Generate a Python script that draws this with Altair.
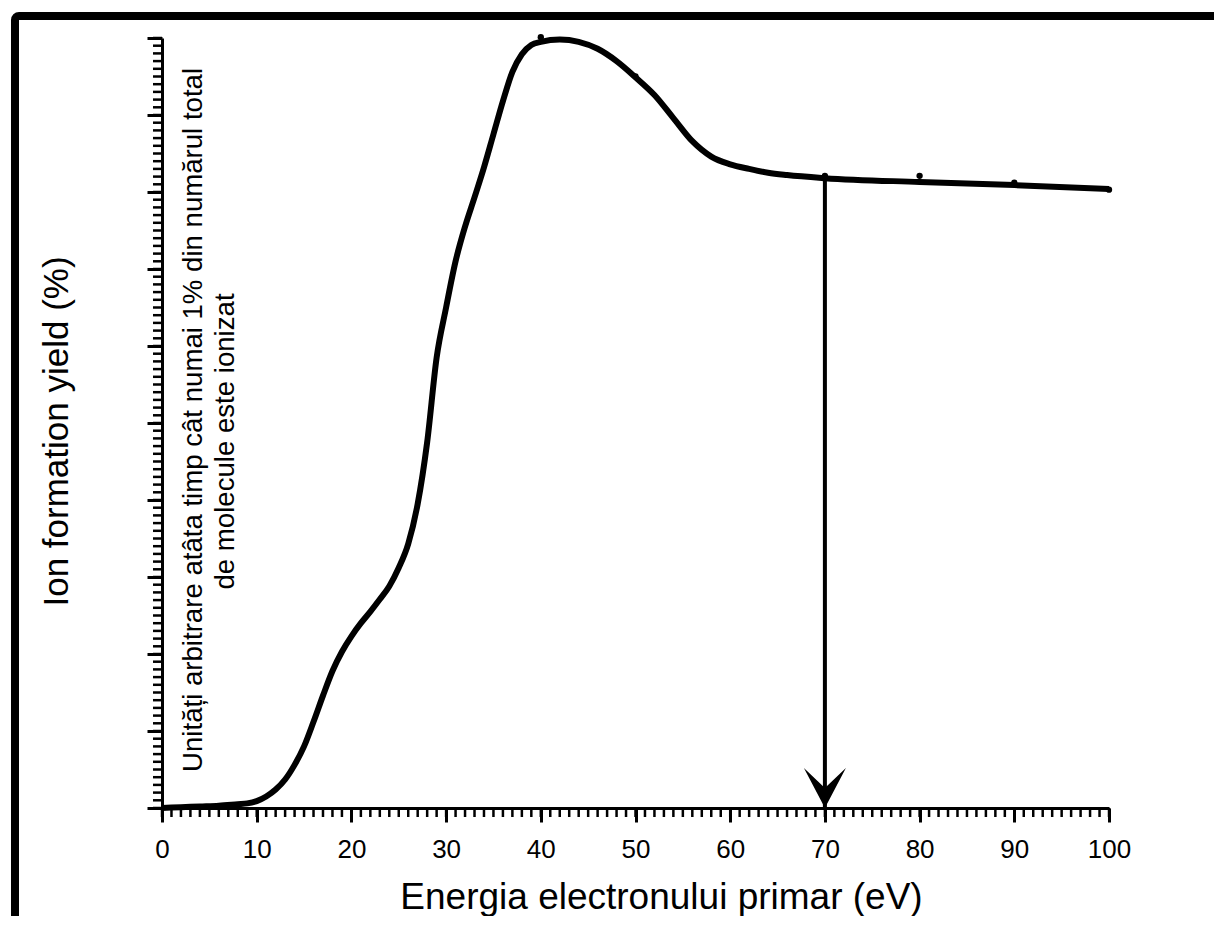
import altair as alt
import pandas as pd

# ---- data ----
energy = [0, 2, 4, 6, 8, 9, 10, 11, 12, 13, 14, 15, 16, 17, 18, 19,
          20, 21, 22, 23, 24, 25, 26, 27, 28, 29, 30, 31, 32, 33, 34, 35,
          36, 37, 38, 39, 40, 42, 44, 46, 48, 50, 52, 54, 56, 58, 60, 62,
          64, 66, 70, 80, 90, 100]
ion_yield = [0, 0.1, 0.2, 0.3, 0.5, 0.6, 0.9, 1.5, 2.4, 3.7, 5.6, 8.0, 11.2, 14.6, 17.8, 20.3,
             22.3, 24.0, 25.5, 27.1, 28.8, 31.2, 34.3, 39.5, 47.5, 58.5, 65.0, 71.0, 75.5, 79.3, 83.2, 87.5,
             91.8, 95.6, 97.9, 99.1, 99.5, 99.8, 99.5, 98.6, 97.0, 94.9, 92.6, 89.6, 86.6, 84.6, 83.6, 83.0,
             82.5, 82.2, 81.8, 81.3, 80.9, 80.4]

dot_x = [40, 50, 70, 80, 90, 100]
dot_y = [100.1, 95.0, 82.1, 82.1, 81.2, 80.3]

arrow_x = [70]
arrow_top = [81.8]
arrow_bottom = [0]

note_lines = ["Unități arbitrare atâta timp cât numai 1% din numărul total",
              "de molecule este ionizat"]
note_x = [4.2, 7.6]
note_y = [50.4, 47.6]

major_ticks = list(range(0, 101, 10))
minor_ticks = list(range(0, 101))

x_title = "Energia electronului primar (eV)"
y_title = "Ion formation yield (%)"

FONT = "Liberation Sans"

xs = alt.Scale(domain=[0, 100], nice=False, zero=False)
ys = alt.Scale(domain=[0, 100], nice=False, zero=False)

curve_df = pd.DataFrame({"e": energy, "y": ion_yield})
dots_df = pd.DataFrame({"e": dot_x, "y": dot_y})
arrow_df = pd.DataFrame({"e": arrow_x, "y": arrow_top, "y2": arrow_bottom})
head_df = pd.DataFrame({"e": arrow_x, "y": arrow_bottom})
note_df = pd.DataFrame({"e": note_x, "y": note_y, "t": note_lines})
minor_df = pd.DataFrame({"v": minor_ticks, "z": [0] * len(minor_ticks)})

x_axis = alt.Axis(
    values=major_ticks, tickSize=14, tickWidth=3, domainWidth=3,
    labelFontSize=26, labelPadding=14, labelFont=FONT, labelColor="black",
    labelFlush=False, labelOverlap=False,
    title=x_title, titleFontSize=37, titleFont=FONT, titleFontWeight="normal",
    titleColor="black", titlePadding=17, titleX=499, titleAlign="center",
    grid=False, domainColor="black", tickColor="black")
y_axis = alt.Axis(
    values=major_ticks, tickSize=15, tickWidth=3, domainWidth=3,
    labels=False, title=y_title, titleFontSize=35, titleFont=FONT,
    titleFontWeight="normal", titleColor="black", titlePadding=71,
    titleY=393, titleAlign="center",
    grid=False, domainColor="black", tickColor="black")

curve = alt.Chart(curve_df).mark_line(
    color="black", strokeWidth=6, interpolate="monotone"
).encode(
    x=alt.X("e:Q", scale=xs, axis=x_axis),
    y=alt.Y("y:Q", scale=ys, axis=y_axis),
)

x_minor = alt.Chart(minor_df).mark_tick(
    orient="vertical", size=9, thickness=2.5, yOffset=4.5, color="black", opacity=1
).encode(
    x=alt.X("v:Q", scale=xs, axis=x_axis),
    y=alt.Y("z:Q", scale=ys, axis=y_axis),
)

y_minor = alt.Chart(minor_df).mark_tick(
    orient="horizontal", size=9, thickness=2.5, xOffset=-4.5, color="black", opacity=1
).encode(
    y=alt.Y("v:Q", scale=ys, axis=y_axis),
    x=alt.X("z:Q", scale=xs, axis=x_axis),
)

dots = alt.Chart(dots_df).mark_circle(color="black", size=40, opacity=1).encode(
    x=alt.X("e:Q", scale=xs, axis=x_axis),
    y=alt.Y("y:Q", scale=ys, axis=y_axis),
)

stem = alt.Chart(arrow_df).mark_rule(color="black", strokeWidth=4).encode(
    x=alt.X("e:Q", scale=xs, axis=x_axis),
    y=alt.Y("y:Q", scale=ys, axis=y_axis),
    y2="y2:Q",
)

head = alt.Chart(head_df).mark_point(
    shape="M0,0L-1,-1.9L0,-0.95L1,-1.9Z", filled=True, size=1764,
    color="black", opacity=1
).encode(
    x=alt.X("e:Q", scale=xs, axis=x_axis),
    y=alt.Y("y:Q", scale=ys, axis=y_axis),
)

note = alt.Chart(note_df).mark_text(
    angle=270, align="center", baseline="alphabetic", fontSize=27.6,
    font=FONT, color="black"
).encode(
    x=alt.X("e:Q", scale=xs, axis=x_axis),
    y=alt.Y("y:Q", scale=ys, axis=y_axis),
    text="t:N",
)

frame = alt.Chart(pd.DataFrame({"a": [0]})).mark_rect(
    fillOpacity=0, stroke="black", strokeWidth=8, cornerRadius=4
).encode(
    x=alt.value(-147), x2=alt.value(1500),
    y=alt.value(-22), y2=alt.value(1300),
)

chart = alt.layer(curve, x_minor, y_minor, dots, stem, head, note, frame).properties(
    width=947, height=770,
    autosize=alt.AutoSizeParams(type="none"),
    padding={"left": 154, "top": 30, "right": 105, "bottom": 108},
    background="white",
).configure_view(stroke=None)

chart.save("out.html", embed_options={"renderer": "svg", "actions": False})
